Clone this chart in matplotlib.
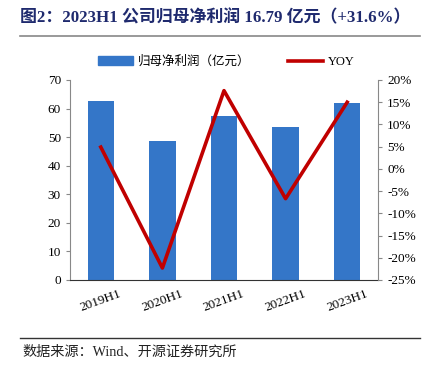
import matplotlib.pyplot as plt
from matplotlib.lines import Line2D
from matplotlib.patches import Patch

periods = ["2019H1", "2020H1", "2021H1", "2022H1", "2023H1"]
profit = [62.8, 48.8, 57.4, 53.6, 61.8]
yoy = [4.9, -22.3, 17.6, -6.7, 15.0]

SERIF = ["Liberation Serif", "Noto Sans CJK SC"]
BLUE = "#3476c8"
RED = "#c00000"

plt.rcParams['font.family'] = SERIF

fig = plt.figure(figsize=(4.35, 3.7), dpi=100)
W, H = 435.0, 370.0

def fx(px):
    return px / W

def fy(py):
    return 1 - py / H

# title + rule
fig.text(fx(20), fy(18), "图2：2023H1 公司归母净利润 16.79 亿元（+31.6%）",
         family=SERIF, fontsize=12.2, fontweight="bold",
         color="#1f2a6e", va="center", ha="left")
fig.add_artist(Line2D([fx(20), fx(420)], [fy(36), fy(36)], color="#888888", lw=1.2))

ax = fig.add_axes([fx(70), fy(280), fx(378) - fx(70), fy(80) - fy(280)])
x = range(len(periods))
ax.bar(x, profit, width=0.43, color=BLUE, zorder=2)
ax.set_xlim(-0.5, len(periods) - 0.5)
ax.set_ylim(0, 70)
ax.set_yticks(range(0, 71, 10))
ax.set_xticks(list(x))
ax.set_xticklabels(periods, rotation=20, ha="center", fontsize=9.5)
ax.tick_params(axis="y", labelsize=9.5, length=3, color="#888888")
ax.tick_params(axis="x", length=0, pad=6)
for s in ["top", "right"]:
    ax.spines[s].set_visible(False)
ax.spines["left"].set_color("#888888")
ax.spines["bottom"].set_color("#333333")

ax2 = ax.twinx()
ax2.plot(list(x), yoy, color=RED, lw=2.6, zorder=3)
ax2.set_ylim(-25, 20)
ax2.set_yticks(range(-25, 21, 5))
ax2.set_yticklabels([f"{v}%" for v in range(-25, 21, 5)])
ax2.tick_params(axis="y", labelsize=9.5, length=3, color="#888888")
for s in ["top", "left", "bottom"]:
    ax2.spines[s].set_visible(False)
ax2.spines["right"].set_color("#888888")

handles = [Patch(color=BLUE), Line2D([0], [0], color=RED, lw=2.6)]
fig.legend(handles, ["归母净利润（亿元）", "YOY"], loc="center", ncol=2,
           bbox_to_anchor=(fx(226), fy(62)), frameon=False, handlelength=2.8,
           columnspacing=3.0, handletextpad=0.4,
           prop={"family": SERIF, "size": 9})

fig.add_artist(Line2D([fx(20), fx(420)], [fy(338), fy(338)], color="#333333", lw=1.0))
fig.text(fx(22), fy(352), "数据来源：Wind、开源证券研究所", family=SERIF,
         fontsize=10.2, va="center", ha="left", color="#222222")

fig.savefig("out.png", dpi=100)
